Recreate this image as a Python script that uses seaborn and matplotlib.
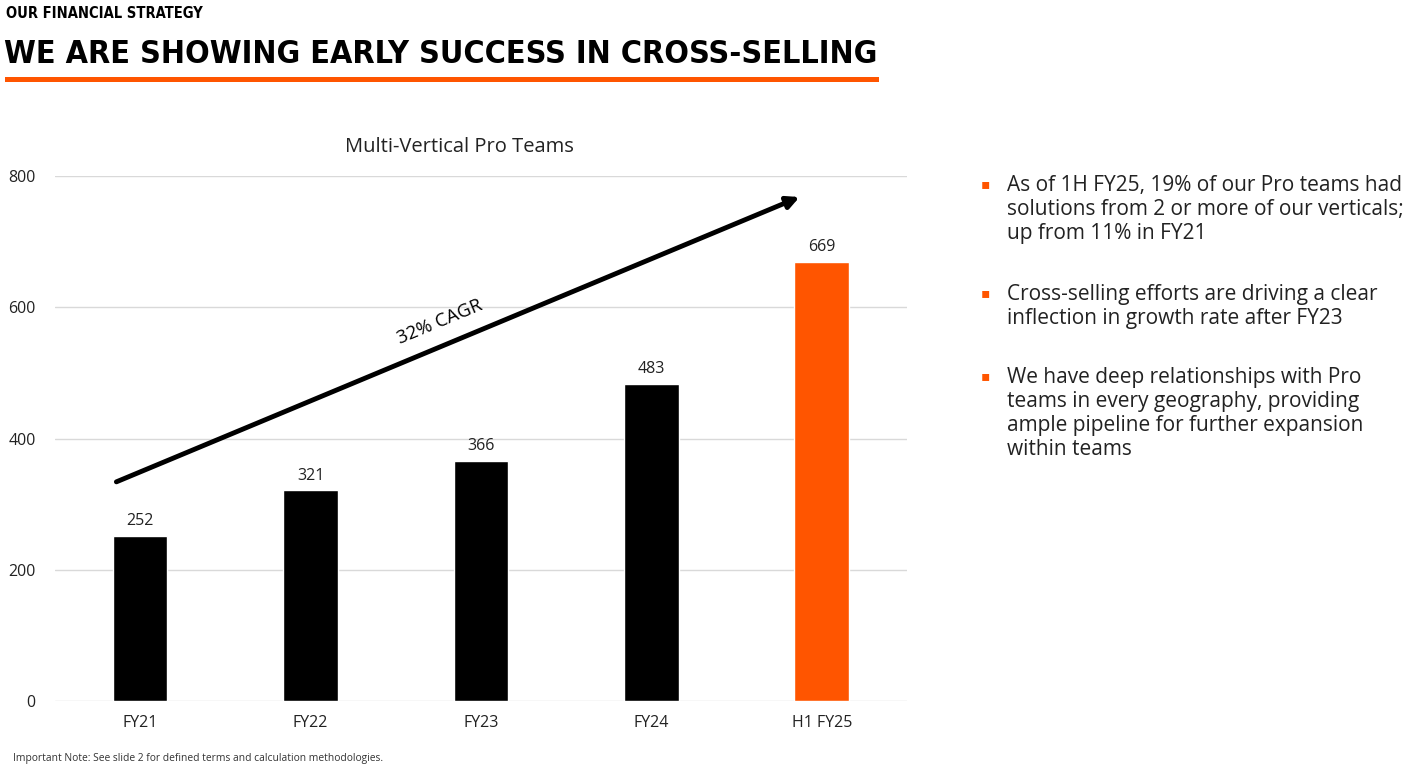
import numpy as np
import pandas as pd
import matplotlib
matplotlib.use('Agg')
import matplotlib.pyplot as plt
import seaborn as sns

# ==========================================================
# DATOS
# ==========================================================
periods = ['FY21', 'FY22', 'FY23', 'FY24', 'H1 FY25']
teams = [252, 321, 366, 483, 669]
bar_colors = ['#000000', '#000000', '#000000', '#000000', '#FF5500']
y_ticks = [0, 200, 400, 600, 800]

bullets = [
    "As of 1H FY25, 19% of our Pro teams had\nsolutions from 2 or more of our verticals;\nup from 11% in FY21",
    "Cross-selling efforts are driving a clear\ninflection in growth rate after FY23",
    "We have deep relationships with Pro\nteams in every geography, providing\nample pipeline for further expansion\nwithin teams",
]

df = pd.DataFrame({'period': periods, 'teams': teams})

# ==========================================================
# FIGURA
# ==========================================================
sns.set_theme(style='white')
plt.rcParams['font.family'] = ['Open Sans', 'DejaVu Sans']

fig = plt.figure(figsize=(14.15, 7.67), dpi=100)
ax = fig.add_axes([0.0389, 0.086, 0.602, 0.6845])

sns.barplot(data=df, x='period', y='teams', hue='period', palette=bar_colors,
            legend=False, width=0.32, saturation=1, ax=ax, zorder=3)

ax.set_ylim(0, 800)
ax.set_xlim(-0.5, 4.5)
ax.set_yticks(y_ticks)
ax.yaxis.grid(True, color='#d9d9d9', linewidth=1, zorder=0)
ax.xaxis.grid(False)
for s in ax.spines.values():
    s.set_visible(False)
ax.tick_params(axis='both', length=0, labelsize=11.5, colors='#222222')
ax.tick_params(axis='y', pad=14)
ax.tick_params(axis='x', pad=10)
ax.set_xlabel('')
ax.set_ylabel('')

for i, v in enumerate(teams):
    ax.text(i, v + 10, str(v), ha='center', va='bottom', fontsize=11.5, color='#222222')

# flecha CAGR
ax.annotate('', xy=(3.87, 768), xytext=(-0.14, 334),
            arrowprops=dict(arrowstyle='-|>', color='black', lw=3.5,
                            mutation_scale=18, shrinkA=0, shrinkB=0), zorder=5)
ax.text(1.76, 577, '32% CAGR', rotation=22.6, ha='center', va='center',
        fontsize=13.5, color='black', rotation_mode='anchor')

fig.text(0.325, 0.808, 'Multi-Vertical Pro Teams', ha='center', va='center',
         fontsize=14.5, color='#222222')

# encabezado
fig.text(0.004, 0.982, 'OUR FINANCIAL STRATEGY', ha='left', va='center',
         fontsize=10.5, fontweight='bold', family=['DejaVu Sans'], fontstretch='condensed',
         color='black')
fig.text(0.003, 0.929, 'WE ARE SHOWING EARLY SUCCESS IN CROSS-SELLING', ha='left',
         va='center', fontsize=23.1, fontweight='bold', fontstretch='condensed',
         family=['DejaVu Sans'], color='black')
fig.add_artist(plt.Rectangle((0.0035, 0.893), 0.618, 0.0065, transform=fig.transFigure,
                             color='#FF5500', lw=0))

# viñetas
y_pos = [0.772, 0.63, 0.522]
for txt, yp in zip(bullets, y_pos):
    fig.text(0.693, yp - 0.003, '\u25aa', ha='left', va='top', fontsize=10, color='#FF5500')
    fig.text(0.712, yp, txt, ha='left', va='top', fontsize=15,
             color='#222222', linespacing=1.2)

fig.text(0.009, 0.004, 'Important Note: See slide 2 for defined terms and calculation methodologies.',
         ha='left', va='bottom', fontsize=7.4, color='#333333')

fig.savefig('out.png', dpi=100)
